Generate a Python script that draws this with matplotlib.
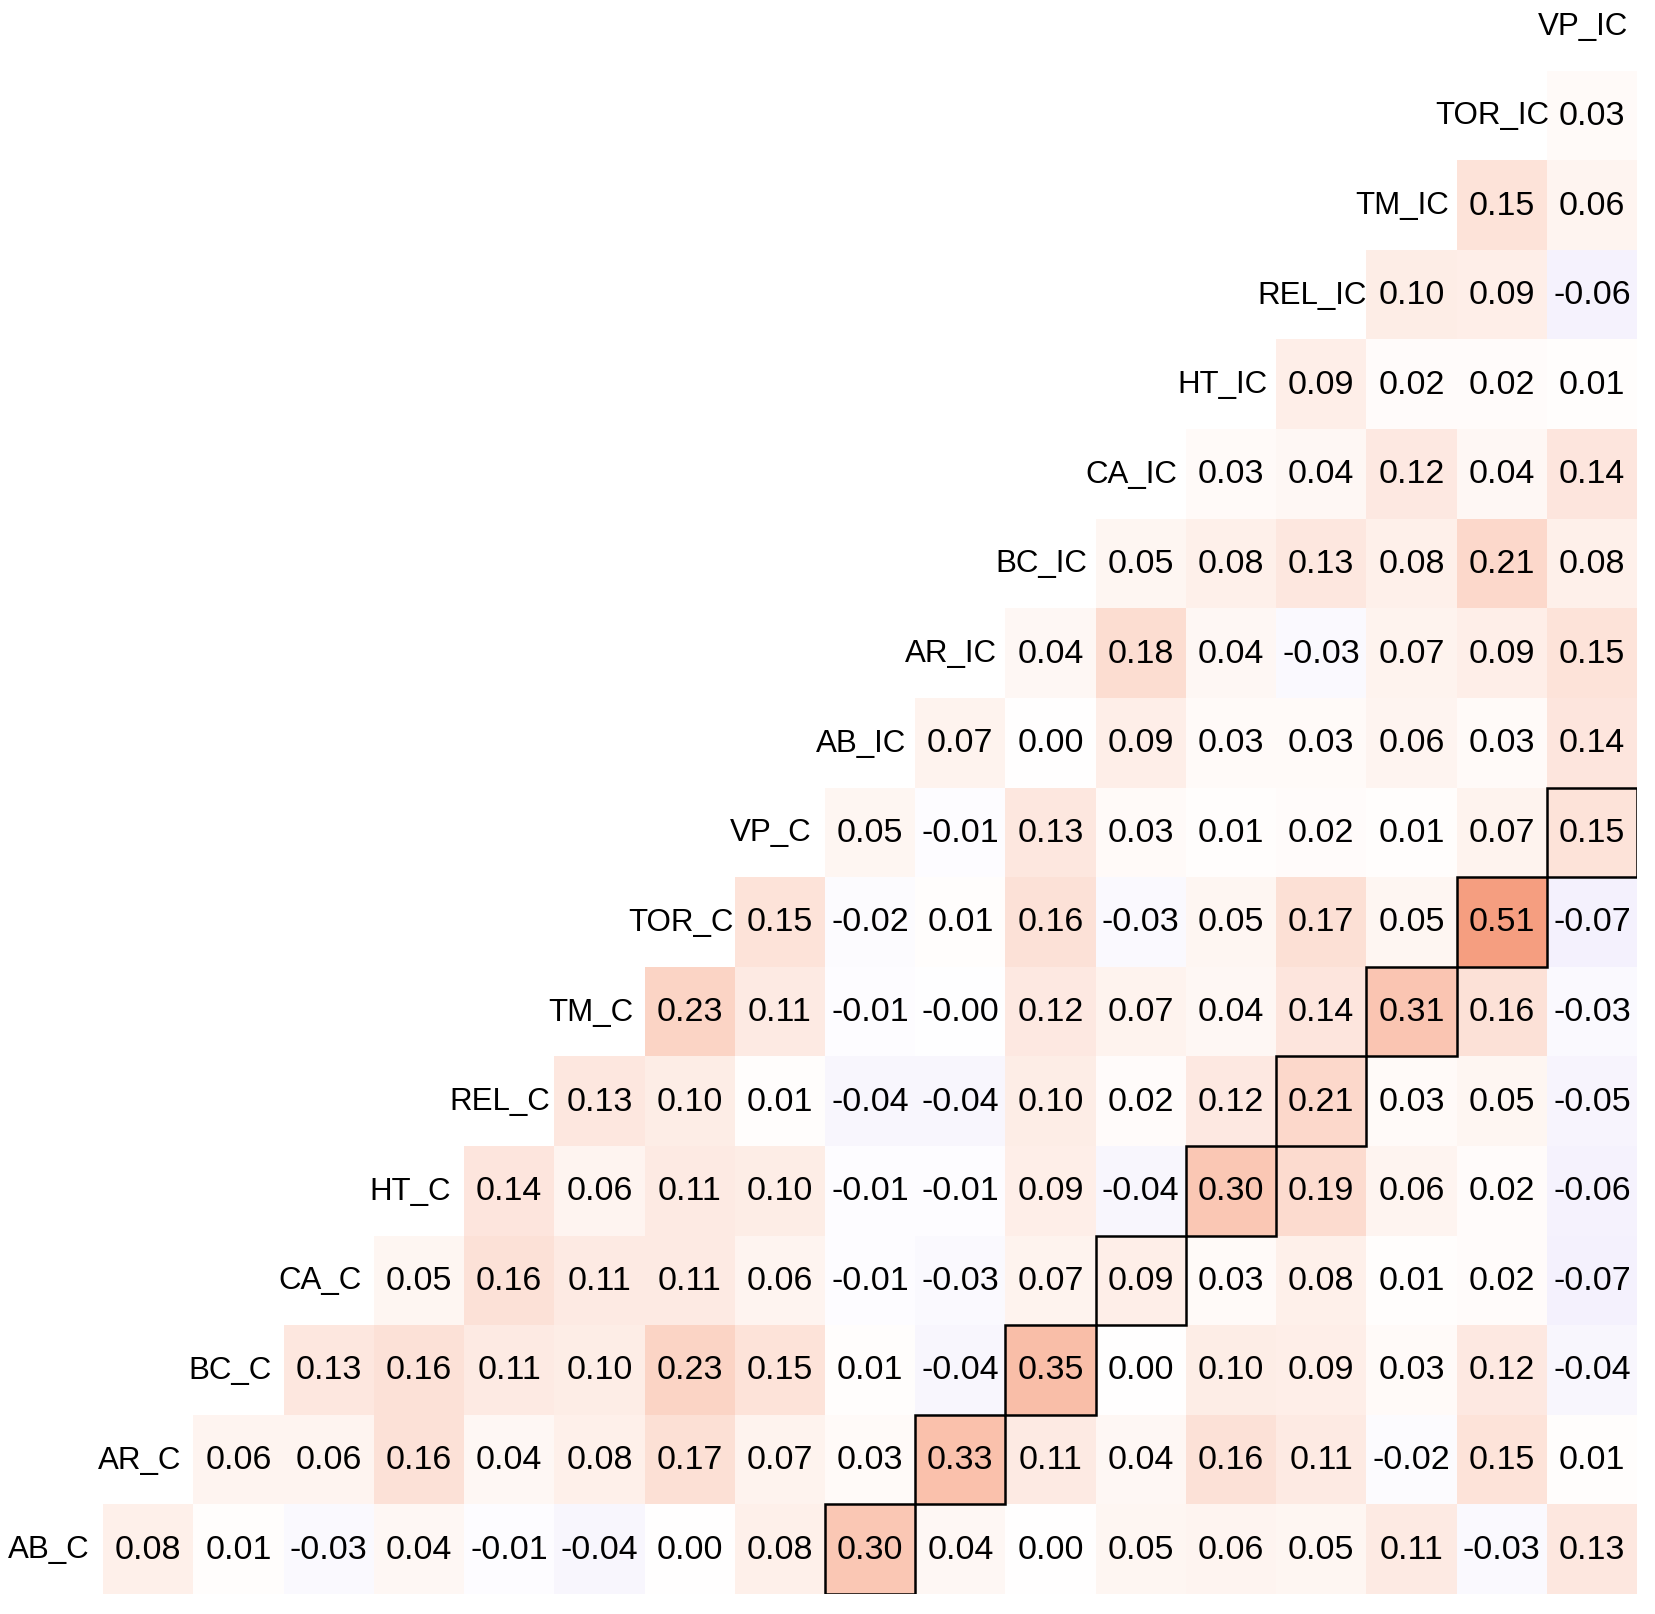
import numpy as np
import matplotlib
matplotlib.use('Agg')
import matplotlib.pyplot as plt
from matplotlib.colors import LinearSegmentedColormap
from matplotlib.patches import Rectangle

plt.rcParams['font.family'] = ['Liberation Sans', 'DejaVu Sans']

# variable names, bottom row first
names = ['AB_C', 'AR_C', 'BC_C', 'CA_C', 'HT_C', 'REL_C', 'TM_C', 'TOR_C', 'VP_C',
         'AB_IC', 'AR_IC', 'BC_IC', 'CA_IC', 'HT_IC', 'REL_IC', 'TM_IC', 'TOR_IC', 'VP_IC']

# correlations of each variable with the ones after it (upper triangle, row by row)
r_AB_C = [0.08, 0.01, -0.03, 0.04, -0.01, -0.04, 0.00, 0.08, 0.30, 0.04, 0.00, 0.05, 0.06, 0.05, 0.11, -0.03, 0.13]
r_AR_C = [0.06, 0.06, 0.16, 0.04, 0.08, 0.17, 0.07, 0.03, 0.33, 0.11, 0.04, 0.16, 0.11, -0.02, 0.15, 0.01]
r_BC_C = [0.13, 0.16, 0.11, 0.10, 0.23, 0.15, 0.01, -0.04, 0.35, 0.00, 0.10, 0.09, 0.03, 0.12, -0.04]
r_CA_C = [0.05, 0.16, 0.11, 0.11, 0.06, -0.01, -0.03, 0.07, 0.09, 0.03, 0.08, 0.01, 0.02, -0.07]
r_HT_C = [0.14, 0.06, 0.11, 0.10, -0.01, -0.01, 0.09, -0.04, 0.30, 0.19, 0.06, 0.02, -0.06]
r_REL_C = [0.13, 0.10, 0.01, -0.04, -0.04, 0.10, 0.02, 0.12, 0.21, 0.03, 0.05, -0.05]
r_TM_C = [0.23, 0.11, -0.01, -0.001, 0.12, 0.07, 0.04, 0.14, 0.31, 0.16, -0.03]
r_TOR_C = [0.15, -0.02, 0.01, 0.16, -0.03, 0.05, 0.17, 0.05, 0.51, -0.07]
r_VP_C = [0.05, -0.01, 0.13, 0.03, 0.01, 0.02, 0.01, 0.07, 0.15]
r_AB_IC = [0.07, 0.00, 0.09, 0.03, 0.03, 0.06, 0.03, 0.14]
r_AR_IC = [0.04, 0.18, 0.04, -0.03, 0.07, 0.09, 0.15]
r_BC_IC = [0.05, 0.08, 0.13, 0.08, 0.21, 0.08]
r_CA_IC = [0.03, 0.04, 0.12, 0.04, 0.14]
r_HT_IC = [0.09, 0.02, 0.02, 0.01]
r_REL_IC = [0.10, 0.09, -0.06]
r_TM_IC = [0.15, 0.06]
r_TOR_IC = [0.03]
r_VP_IC = []

rows = [r_AB_C, r_AR_C, r_BC_C, r_CA_C, r_HT_C, r_REL_C, r_TM_C, r_TOR_C, r_VP_C,
        r_AB_IC, r_AR_IC, r_BC_IC, r_CA_IC, r_HT_IC, r_REL_IC, r_TM_IC, r_TOR_IC, r_VP_IC]

n = len(names)
M = np.full((n, n), np.nan)
for i, vals in enumerate(rows):
    for k, v in enumerate(vals):
        M[i, i + 1 + k] = v

cmap = LinearSegmentedColormap.from_list(
    'corr', [(0.0, '#5a28dc'), (0.5, '#ffffff'), (0.75, '#f7a282'), (1.0, '#b2182b')])

fig = plt.figure(figsize=(16.55, 16.15), dpi=100)
# top of the grid runs a little past the top of the figure, as in the original
ax = fig.add_axes([13 / 1655, 20 / 1615, 1624 / 1655, 1613 / 1615])

ax.pcolormesh(np.arange(n + 1), np.arange(n + 1), np.ma.masked_invalid(M),
              cmap=cmap, vmin=-1, vmax=1)

for i, vals in enumerate(rows):
    ax.text(i + 0.4, i + 0.5, names[i], ha='center', va='center', fontsize=22.5)
    for k, v in enumerate(vals):
        j = i + 1 + k
        ax.text(j + 0.5, i + 0.5, f'{v:.2f}', ha='center', va='center', fontsize=24.5)

# outline the same-trait C vs IC pairs
half = n // 2
for i in range(half):
    ax.add_patch(Rectangle((i + half, i), 1, 1, fill=False, edgecolor='black', lw=1.8))

ax.set_xlim(0, n)
ax.set_ylim(0, n)
ax.axis('off')

fig.savefig('out.png', dpi=100)
